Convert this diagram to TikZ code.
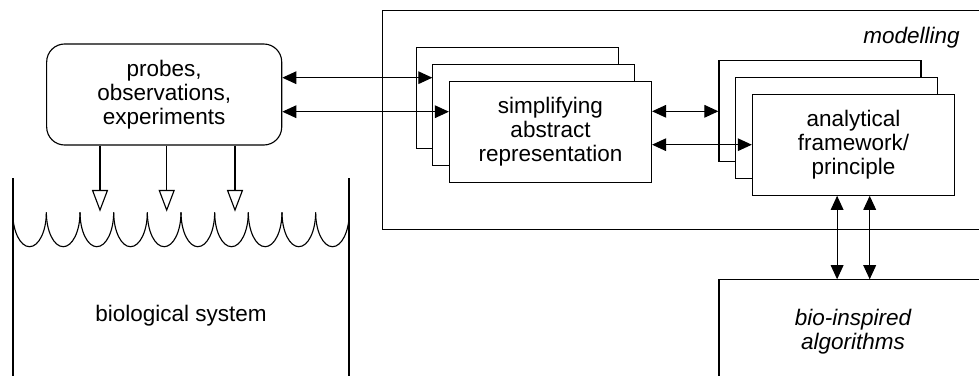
\documentclass[tikz,border=0pt]{standalone}
\usepackage{fontspec}
\setmainfont{Liberation Sans}
\usetikzlibrary{arrows.meta,calc}

\begin{document}
\begin{tikzpicture}[x=0.025cm, y=-0.025cm, line width=0.8pt,
    >={Triangle[length=10pt,width=9pt]},
    font=\fontsize{16}{17.2}\selectfont,
    card/.style={draw, fill=white, minimum width=5.05cm, minimum height=2.525cm,
      align=center, inner sep=0pt},
    probe/.style={-{Triangle[open,length=15.5pt,width=11.5pt]}},
    ital/.style={font=\fontsize{16}{17.2}\selectfont\itshape},
    wall/.style={line width=1.6pt}]
    \useasboundingbox (0,0) rectangle (979,376);
    % ---- modelling frame, open to the right
    \draw (979,10.7) -- (382.7,10.7) -- (382.7,229.3) -- (979,229.3);
    \node[ital, anchor=base east] (modlabel) at (965,43.3) {modelling};
    % ---- the biological system, a vessel with a scalloped surface
    \draw[wall] (12.7,178.3) -- (12.7,376);
    \draw[wall] (349.3,178.3) -- (349.3,376);
    \foreach \i in {0,...,9}
      \draw (12.7+33.66*\i,212.3) arc[start angle=180, end angle=0, x radius=16.83, y radius=34.4];
    \node (biosys) at (181,316) {biological system};
    % ---- probes
    \node[draw, rounded corners=0.45cm, minimum width=5.875cm, minimum height=2.525cm,
      align=center, inner sep=0pt] (probes) at (164.2,94.5) {probes,\\observations,\\experiments};
    \coordinate (d1) at (100,211.7);
    \coordinate (d2) at (166.7,211.7);
    \coordinate (d3) at (235,211.7);
    \draw[probe] (probes.south -| d1) -- (d1);
    \draw[probe] (probes.south -| d2) -- (d2);
    \draw[probe] (probes.south -| d3) -- (d3);
    % ---- stacked boxes
    \node[card] (sa3) at (517.2,98.3) {};
    \node[card] (sa2) at (533.9,115) {};
    \node[card] (sa1) at (550.5,131.8) {simplifying\\abstract\\representation};
    \node[card] (af3) at (820,111.3) {};
    \node[card] (af2) at (836.7,128) {};
    \node[card] (af1) at (853.4,144.7) {analytical\\framework/\\principle};
    % ---- bio-inspired algorithms, open to the right and below
    \coordinate (biotop) at (719,279.3);
    \draw (979,279.3) -- (biotop) -- (719,376);
    \node[ital, align=center] (bioalg) at (853,332) {bio-inspired\\algorithms};
    % the arrows
    \coordinate (p1) at ($(probes.east)+(0,-16.8)$);
    \coordinate (p2) at ($(probes.east)+(0,17.2)$);
    \draw[<->] (p1) -- (p1 -| sa2.west);
    \draw[<->] (p2) -- (p2 -| sa1.west);
    \draw[<->] (sa1.east |- af3.west) -- (af3.west);
    \draw[<->] (sa1.east |- af1.west) -- (af1.west);
    \coordinate (v1) at ($(af1.south)+(-16.3,0)$);
    \coordinate (v2) at ($(af1.south)+(16.3,0)$);
    \draw[<->] (v1) -- (v1 |- biotop);
    \draw[<->] (v2) -- (v2 |- biotop);
\end{tikzpicture}
\end{document}
